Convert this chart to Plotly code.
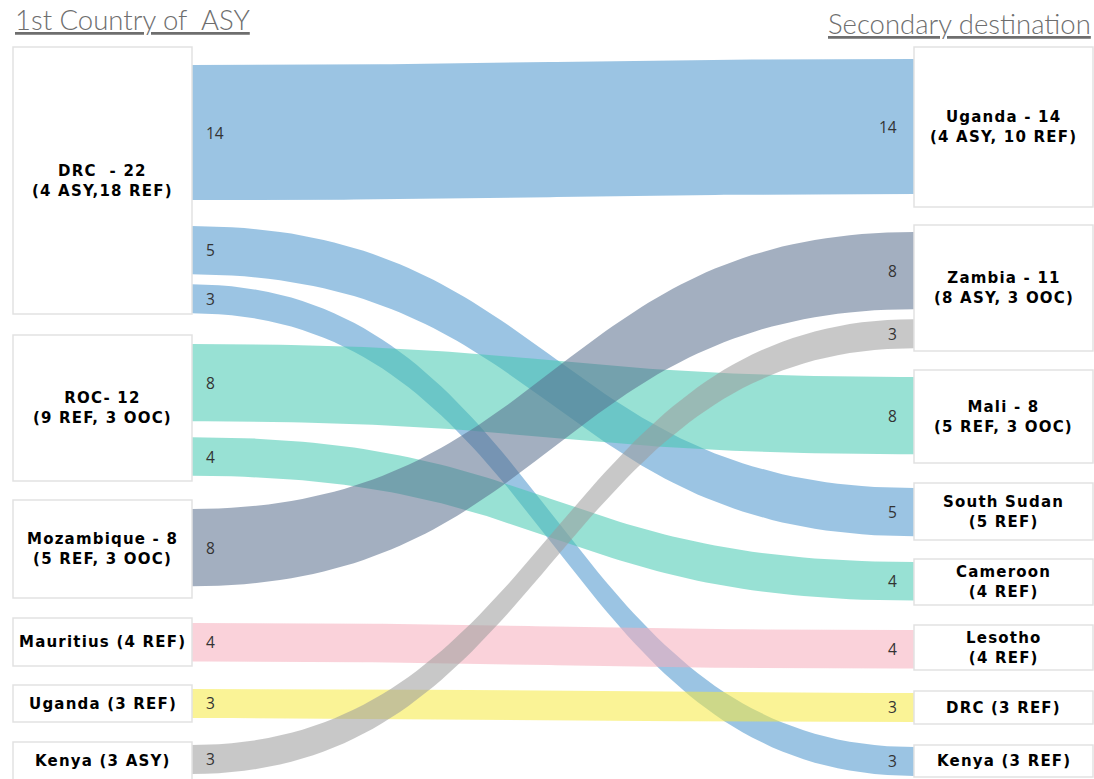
import numpy as np
import plotly.graph_objects as go

# ---------------- data ----------------
source_names = ["DRC", "ROC", "Mozambique", "Mauritius", "Uganda", "Kenya"]
source_labels = ["DRC  - 22<br>(4 ASY,18 REF)", "ROC- 12<br>(9 REF, 3 OOC)",
                 "Mozambique - 8<br>(5 REF, 3 OOC)", "Mauritius (4 REF)",
                 "Uganda (3 REF)", "Kenya (3 ASY)"]
target_names = ["Uganda", "Zambia", "Mali", "South Sudan", "Cameroon",
                "Lesotho", "DRC", "Kenya"]
target_labels = ["Uganda - 14<br>(4 ASY, 10 REF)", "Zambia - 11<br>(8 ASY, 3 OOC)",
                 "Mali - 8<br>(5 REF, 3 OOC)", "South Sudan<br>(5 REF)",
                 "Cameroon<br>(4 REF)", "Lesotho<br>(4 REF)", "DRC (3 REF)",
                 "Kenya (3 REF)"]
link_source = ["DRC", "DRC", "DRC", "ROC", "ROC", "Mozambique", "Mauritius", "Uganda", "Kenya"]
link_target = ["Uganda", "South Sudan", "Kenya", "Mali", "Cameroon", "Zambia", "Lesotho", "DRC", "Zambia"]
link_value = [14, 5, 3, 8, 4, 8, 4, 3, 3]
title_left = "1st Country of  ASY"
title_right = "Secondary destination"

# ---------------- layout / style ----------------
W, H = 1094, 779
PX_PER_UNIT = 9.65
LEFT_X0, LEFT_X1 = 13, 192
RIGHT_X0, RIGHT_X1 = 914, 1093
src_box = {"DRC": (47, 314), "ROC": (335, 481), "Mozambique": (500, 598),
           "Mauritius": (618, 666), "Uganda": (685, 722), "Kenya": (742, 782)}
tgt_box = {"Uganda": (47, 207), "Zambia": (225, 351), "Mali": (370, 463),
           "South Sudan": (483, 540), "Cameroon": (559, 605), "Lesotho": (625, 670),
           "DRC": (691, 724), "Kenya": (745, 777)}
src_pad = {"DRC": 18, "ROC": 9, "Mozambique": 9, "Mauritius": 5, "Uganda": 4, "Kenya": 3}
src_gap = {"DRC": [26, 10], "ROC": [16]}
tgt_pad = {"Uganda": 12, "Zambia": 7, "Mali": 7, "South Sudan": 5, "Cameroon": 3,
           "Lesotho": 5, "DRC": 2, "Kenya": 2}
tgt_gap = {"Zambia": [10]}
src_color = {"DRC": (73, 148, 204), "ROC": (67, 200, 177), "Mozambique": (88, 110, 140),
             "Mauritius": (246, 173, 188), "Uganda": (246, 233, 64), "Kenya": (155, 155, 155)}
ALPHA = 0.55

# compute ribbon end positions
src_cursor = {n: src_box[n][0] + src_pad[n] for n in source_names}
src_count = {n: 0 for n in source_names}
tgt_cursor = {n: tgt_box[n][0] + tgt_pad[n] for n in target_names}
tgt_count = {n: 0 for n in target_names}
ribbons = []
for s, t, v in zip(link_source, link_target, link_value):
    h = v * PX_PER_UNIT
    if src_count[s] > 0:
        src_cursor[s] += src_gap[s][src_count[s] - 1]
    y0 = src_cursor[s]
    src_cursor[s] += h
    src_count[s] += 1
    if tgt_count[t] > 0:
        tgt_cursor[t] += tgt_gap[t][tgt_count[t] - 1]
    y1 = tgt_cursor[t]
    tgt_cursor[t] += h
    tgt_count[t] += 1
    ribbons.append((s, t, v, y0, y1, h))

fig = go.Figure()
tt = np.linspace(0, 1, 80)
xa, xb = LEFT_X1, RIGHT_X0
xm = (xa + xb) / 2


def bez(y0, y1):
    x = (1 - tt) ** 3 * xa + 3 * (1 - tt) ** 2 * tt * xm + 3 * (1 - tt) * tt ** 2 * xm + tt ** 3 * xb
    y = (1 - tt) ** 3 * y0 + 3 * (1 - tt) ** 2 * tt * y0 + 3 * (1 - tt) * tt ** 2 * y1 + tt ** 3 * y1
    return x, y


annotations = []
vfont = dict(family="Open Sans, Arial, sans-serif", size=15.5, color="#333333")
for s, t, v, y0, y1, h in ribbons:
    xt, yt = bez(y0, y1)
    xbm, ybm = bez(y0 + h, y1 + h)
    xs = np.concatenate([xt, xbm[::-1]])
    ys = np.concatenate([yt, ybm[::-1]])
    r, g, b = src_color[s]
    fig.add_trace(go.Scatter(x=xs, y=ys, mode="lines", fill="toself",
                             fillcolor=f"rgba({r},{g},{b},{ALPHA})",
                             line=dict(width=0), hoverinfo="skip", showlegend=False))
    annotations.append(dict(x=LEFT_X1 + 12, y=y0 + h / 2, text=str(v), showarrow=False,
                            xanchor="left", yanchor="middle", font=vfont))
    annotations.append(dict(x=RIGHT_X0 - 15, y=y1 + h / 2, text=str(v), showarrow=False,
                            xanchor="right", yanchor="middle", font=vfont))


def spaced(label):
    return "<br>".join(f'<span style="letter-spacing:1.2px">{p}</span>' for p in label.split("<br>"))


shapes = []
nfont = dict(family="DejaVu Sans, Arial, sans-serif", size=15, color="#000000", weight="bold")
for n, lab in zip(source_names, source_labels):
    top, bot = src_box[n]
    shapes.append(dict(type="rect", x0=LEFT_X0, x1=LEFT_X1, y0=top, y1=bot,
                       line=dict(color="#e2e2e2", width=1.5), fillcolor="white", layer="above"))
    annotations.append(dict(x=(LEFT_X0 + LEFT_X1) / 2, y=(top + min(bot, H)) / 2, text=spaced(lab),
                            showarrow=False, xanchor="center", yanchor="middle", font=nfont))
for n, lab in zip(target_names, target_labels):
    top, bot = tgt_box[n]
    shapes.append(dict(type="rect", x0=RIGHT_X0, x1=RIGHT_X1, y0=top, y1=bot,
                       line=dict(color="#e2e2e2", width=1.5), fillcolor="white", layer="above"))
    annotations.append(dict(x=(RIGHT_X0 + RIGHT_X1) / 2, y=(top + bot) / 2, text=spaced(lab),
                            showarrow=False, xanchor="center", yanchor="middle", font=nfont))

tfont = dict(family="Lato, Open Sans, sans-serif", size=27.5, color="#6e6e6e", weight=300,
             lineposition="under")
annotations.append(dict(x=LEFT_X0, y=19, text=title_left, showarrow=False,
                        xanchor="left", yanchor="middle", font=tfont))
annotations.append(dict(x=RIGHT_X1, y=23, text=title_right, showarrow=False,
                        xanchor="right", yanchor="middle", font=tfont))

fig.update_layout(
    width=W, height=H, margin=dict(l=0, r=0, t=0, b=0),
    paper_bgcolor="white", plot_bgcolor="white",
    xaxis=dict(range=[0, W], visible=False, fixedrange=True),
    yaxis=dict(range=[H, 0], visible=False, fixedrange=True),
    shapes=shapes, annotations=annotations, showlegend=False,
)
fig.write_html("out.html", config={"displayModeBar": False},
               post_script="document.body.style.margin='0px';document.body.style.overflow='hidden';")
